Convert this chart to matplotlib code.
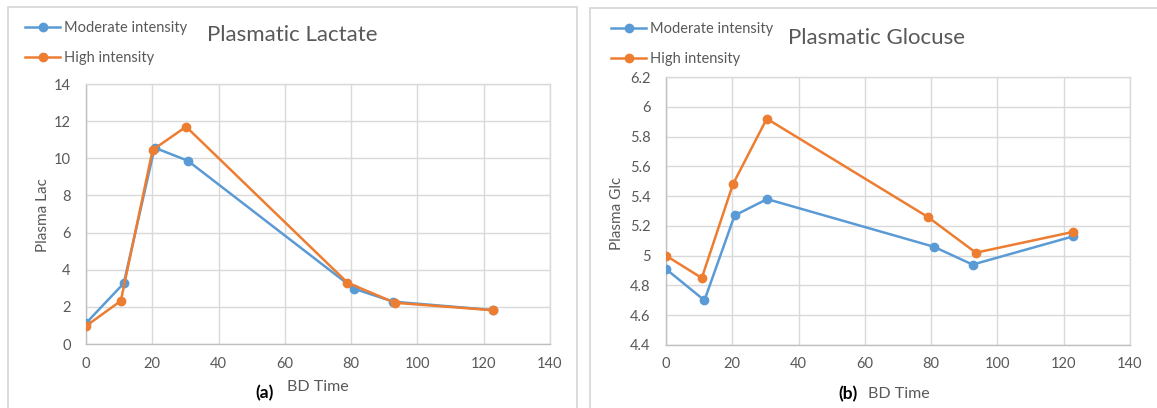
import matplotlib
matplotlib.use("Agg")
import matplotlib.pyplot as plt
from matplotlib.patches import Rectangle

plt.rcParams['font.family'] = ['Lato', 'DejaVu Sans']

# BD time points (min) and plasma measurements
lac_time_mod = [0, 11.4, 20.7, 30.7, 80.8, 92.7, 122.7]
lac_mod = [1.12, 3.27, 10.57, 9.87, 2.98, 2.28, 1.83]
lac_time_high = [0, 10.5, 20.1, 30.2, 78.9, 93.2, 122.7]
lac_high = [0.97, 2.32, 10.45, 11.7, 3.3, 2.22, 1.82]

glc_time_mod = [0, 11.6, 20.7, 30.5, 80.8, 92.5, 122.9]
glc_mod = [4.91, 4.70, 5.27, 5.38, 5.06, 4.94, 5.13]
glc_time_high = [0, 10.8, 20.2, 30.4, 79.0, 93.5, 122.9]
glc_high = [5.00, 4.85, 5.48, 5.92, 5.26, 5.02, 5.16]

xticks = [0, 20, 40, 60, 80, 100, 120, 140]
lac_yticks = [0, 2, 4, 6, 8, 10, 12, 14]
glc_yticks = [4.4, 4.6, 4.8, 5.0, 5.2, 5.4, 5.6, 5.8, 6.0, 6.2]
glc_ylabels = ['4.4', '4.6', '4.8', '5', '5.2', '5.4', '5.6', '5.8', '6', '6.2']

BLUE = '#5B9BD5'
ORANGE = '#ED7D31'
GRID = '#D9D9D9'
TXT = '#595959'

W, H = 1157, 408
fig = plt.figure(figsize=(W / 100, H / 100), dpi=100)


def px(x0, y0, x1, y1):
    """pixel box (top-left origin) -> figure fraction rect"""
    return [x0 / W, 1 - y1 / H, (x1 - x0) / W, (y1 - y0) / H]


def panel(rect, t_mod, y_mod, t_high, y_high, yticks, ylabels, ylabel,
          title, tag, title_xy, leg_xy, ylab_xy, xlab_xy, tag_xy):
    ax = fig.add_axes(rect)
    ax.plot(t_mod, y_mod, color=BLUE, lw=1.8, marker='o', ms=6,
            label='Moderate intensity', zorder=3)
    ax.plot(t_high, y_high, color=ORANGE, lw=1.8, marker='o', ms=6,
            label='High intensity', zorder=4)
    ax.set_xlim(0, 140)
    ax.set_ylim(yticks[0], yticks[-1])
    ax.set_xticks(xticks)
    ax.set_yticks(yticks)
    ax.set_yticklabels(ylabels)
    ax.grid(True, color=GRID, lw=1.0)
    ax.set_axisbelow(True)
    for s in ax.spines.values():
        s.set_color(GRID)
        s.set_linewidth(1.0)
    ax.spines['left'].set_color('#BFBFBF')
    ax.spines['bottom'].set_color('#BFBFBF')
    ax.tick_params(length=0, labelsize=10.5, labelcolor=TXT, pad=11)
    ax.tick_params(axis='x', pad=9)

    fig.text(title_xy[0] / W, 1 - title_xy[1] / H, title, fontsize=16,
             color=TXT, ha='center', va='center')
    fig.text(ylab_xy[0] / W, 1 - ylab_xy[1] / H, ylabel,
             fontsize=11, color=TXT, rotation=90, ha='center', va='center')
    fig.text(xlab_xy[0] / W, 1 - xlab_xy[1] / H, 'BD Time', fontsize=11.5,
             color=TXT, ha='center', va='center')
    fig.text(tag_xy[0] / W, 1 - tag_xy[1] / H, tag, fontsize=12.5,
             fontweight='bold', color='black', ha='center', va='center')

    ax.legend(loc='upper left', bbox_to_anchor=(leg_xy[0] / W, 1 - leg_xy[1] / H),
              bbox_transform=fig.transFigure, frameon=False, fontsize=10.5,
              labelcolor=TXT, handlelength=2.4, handletextpad=0.3,
              borderpad=0, borderaxespad=0, labelspacing=1.1)
    return ax


# panel frames
fig.patches.append(Rectangle((8 / W, -0.05), 569 / W, 1.05 - 7 / H,
                             transform=fig.transFigure, fill=False,
                             edgecolor=GRID, lw=1.3))
fig.patches.append(Rectangle((590 / W, -0.05), 600 / W, 1.05 - 8 / H,
                             transform=fig.transFigure, fill=False,
                             edgecolor=GRID, lw=1.3))

panel(px(86, 84, 550, 344), lac_time_mod, lac_mod, lac_time_high, lac_high,
      lac_yticks, [str(v) for v in lac_yticks], 'Plasma Lac',
      'Plasmatic Lactate', '(a)', (292, 35), (25, 21), (43, 215), (318, 387), (265, 393))

panel(px(666, 77, 1130, 345), glc_time_mod, glc_mod, glc_time_high, glc_high,
      glc_yticks, glc_ylabels, 'Plasma Glc',
      'Plasmatic Glocuse', '(b)', (876, 38), (611, 22), (617, 213), (899, 394), (848, 394))

fig.savefig('out.png', dpi=100)
